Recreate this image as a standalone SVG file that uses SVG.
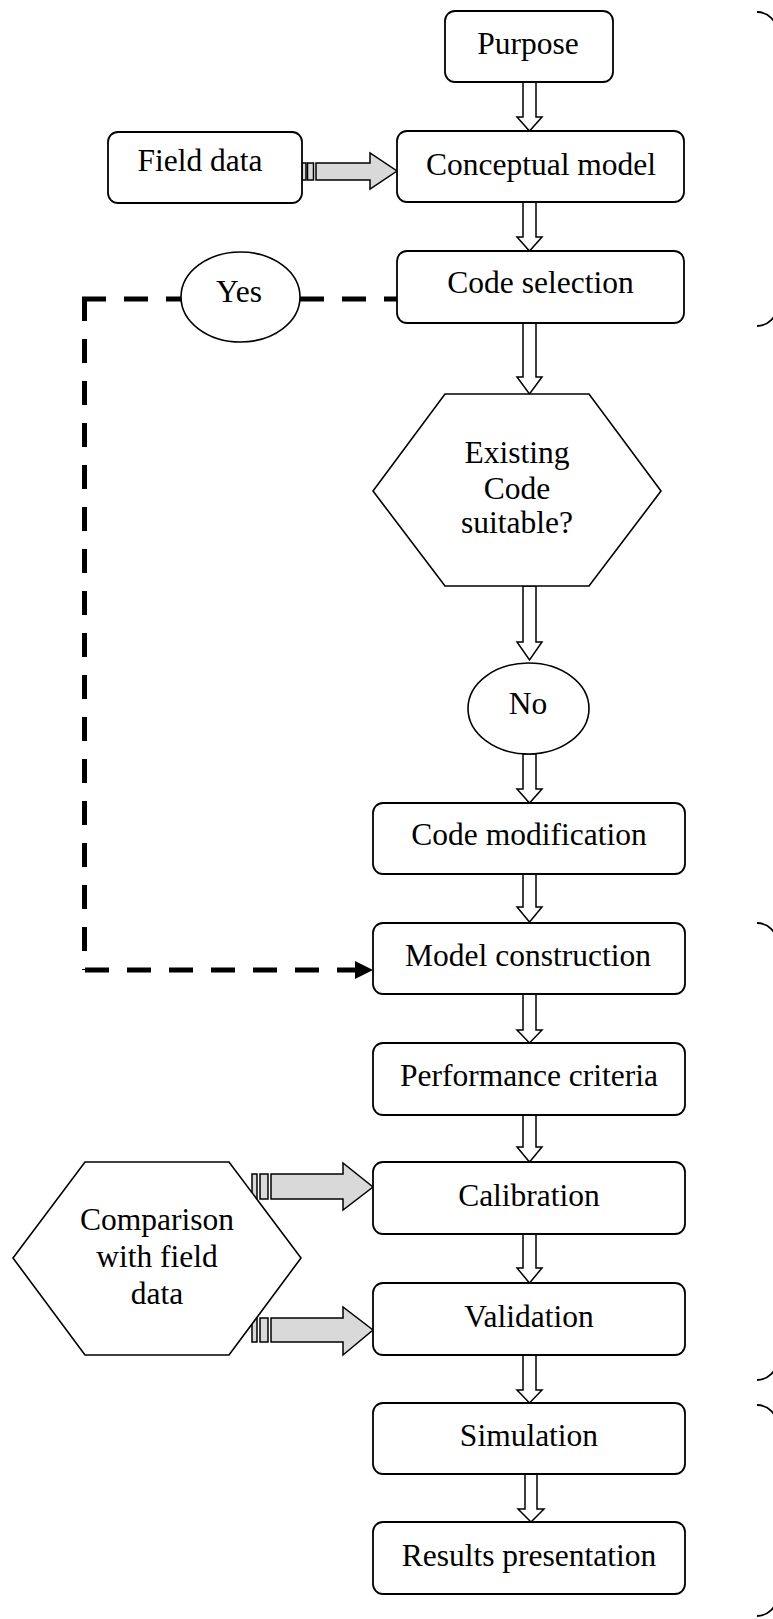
<svg xmlns="http://www.w3.org/2000/svg" width="773" height="1619" viewBox="0 0 773 1619">
<defs>
<style>
.box{fill:#fff;stroke:#000;stroke-width:1.8}
.shape{fill:#fff;stroke:#000;stroke-width:1.6}
.t{font-family:"Liberation Serif","Times New Roman",serif;font-size:31.5px;fill:#000;text-anchor:middle}
.ha{fill:#fff;stroke:#000;stroke-width:1.5}
.ga{fill:#d9d9d9;stroke:#000;stroke-width:1.5}
.dash{fill:none;stroke:#000;stroke-width:5;stroke-dasharray:24 18}
.br{fill:none;stroke:#000;stroke-width:1.8}
</style>
</defs>
<rect width="773" height="1619" fill="#fff"/>

<g id="brackets">
<path class="br" d="M757,12 A20,20 0 0 1 777,32 V306 A20,20 0 0 1 757,326"/>
<path class="br" d="M757,923 A20,20 0 0 1 777,943 V1360 A20,20 0 0 1 757,1380"/>
<path class="br" d="M757,1405 A20,20 0 0 1 777,1425 V1596 A20,20 0 0 1 757,1616"/>
</g>

<g id="connectors">
<polygon class="ha" points="523,82 536,82 536,117 542,117 529.5,131 517,117 523,117"/>
<polygon class="ha" points="523,202 536,202 536,237 542,237 529.5,251 517,237 523,237"/>
<polygon class="ha" points="523,323 536,323 536,377 542,377 529.5,394 517,377 523,377"/>
<polygon class="ha" points="523,586 536,586 536,642 542,642 529.5,660 517,642 523,642"/>
<polygon class="ha" points="523,754 536,754 536,789 542,789 529.5,803 517,789 523,789"/>
<polygon class="ha" points="523,874 536,874 536,907 542,907 529.5,922 517,907 523,907"/>
<polygon class="ha" points="523,994 536,994 536,1030 542,1030 529.5,1043 517,1030 523,1030"/>
<polygon class="ha" points="523,1115 536,1115 536,1147 542,1147 529.5,1162 517,1147 523,1147"/>
<polygon class="ha" points="523,1234 536,1234 536,1268 542,1268 529.5,1283 517,1268 523,1268"/>
<polygon class="ha" points="523,1355 536,1355 536,1390 542,1390 529.5,1403 517,1390 523,1390"/>
<polygon class="ha" points="525,1474 537,1474 537,1509 544,1509 531,1522 518,1509 525,1509"/>

<rect class="ga" x="302" y="163" width="4" height="17"/>
<rect class="ga" x="307.5" y="163" width="6" height="17"/>
<polygon class="ga" points="316,163 370,163 370,153 397,171 370,189 370,180 316,180"/>

<rect class="ga" x="252" y="1174" width="5" height="25"/>
<rect class="ga" x="260" y="1174" width="8" height="25"/>
<polygon class="ga" points="271,1174 343,1174 343,1163 373,1187 343,1210 343,1199 271,1199"/>

<rect class="ga" x="252" y="1318" width="5" height="24"/>
<rect class="ga" x="260" y="1318" width="8" height="24"/>
<polygon class="ga" points="271,1318 343,1318 343,1307 373,1330 343,1355 343,1342 271,1342"/>

<line class="dash" x1="300" y1="299" x2="397" y2="299"/>
<line class="dash" x1="82" y1="299" x2="181" y2="299"/>
<line class="dash" x1="84.5" y1="297" x2="84.5" y2="970"/>
<line class="dash" x1="85" y1="970" x2="356" y2="970"/>
<polygon points="355,961 373,970 355,979" fill="#000"/>
</g>

<g id="purpose">
<rect class="box" x="445" y="11" width="168" height="71" rx="10"/>
<text class="t" x="528" y="54">Purpose</text>
</g>
<g id="field-data">
<rect class="box" x="108" y="132" width="194" height="71" rx="10"/>
<text class="t" x="200" y="171">Field data</text>
</g>
<g id="conceptual-model">
<rect class="box" x="397" y="131" width="287" height="71" rx="10"/>
<text class="t" x="541" y="175">Conceptual model</text>
</g>
<g id="code-selection">
<rect class="box" x="397" y="251" width="287" height="72" rx="10"/>
<text class="t" x="540.5" y="293">Code selection</text>
</g>
<g id="yes">
<ellipse class="shape" cx="240.5" cy="297" rx="59.5" ry="45"/>
<text class="t" x="239" y="302">Yes</text>
</g>
<g id="existing-code">
<polygon class="shape" points="445,394 589,394 661,491 589,586 445,586 373,491"/>
<text class="t" x="517" y="463">Existing</text>
<text class="t" x="517" y="499">Code</text>
<text class="t" x="517" y="533">suitable?</text>
</g>
<g id="no">
<ellipse class="shape" cx="528.5" cy="708.5" rx="60.5" ry="45.5"/>
<text class="t" x="528" y="714">No</text>
</g>
<g id="code-modification">
<rect class="box" x="373" y="803" width="312" height="71" rx="10"/>
<text class="t" x="529" y="845">Code modification</text>
</g>
<g id="model-construction">
<rect class="box" x="373" y="923" width="312" height="71" rx="10"/>
<text class="t" x="528" y="966">Model construction</text>
</g>
<g id="performance-criteria">
<rect class="box" x="373" y="1043" width="312" height="72" rx="10"/>
<text class="t" x="529" y="1086">Performance criteria</text>
</g>
<g id="calibration">
<rect class="box" x="373" y="1162" width="312" height="72" rx="10"/>
<text class="t" x="529" y="1206">Calibration</text>
</g>
<g id="validation">
<rect class="box" x="373" y="1283" width="312" height="72" rx="10"/>
<text class="t" x="529" y="1327">Validation</text>
</g>
<g id="comparison">
<polygon class="shape" points="85,1162 229,1162 301,1258 229,1355 85,1355 13,1258"/>
<text class="t" x="157" y="1230">Comparison</text>
<text class="t" x="157" y="1267">with field</text>
<text class="t" x="157" y="1304">data</text>
</g>
<g id="simulation">
<rect class="box" x="373" y="1403" width="312" height="71" rx="10"/>
<text class="t" x="529" y="1446">Simulation</text>
</g>
<g id="results-presentation">
<rect class="box" x="373" y="1522" width="312" height="72" rx="10"/>
<text class="t" x="529" y="1566">Results presentation</text>
</g>
</svg>
